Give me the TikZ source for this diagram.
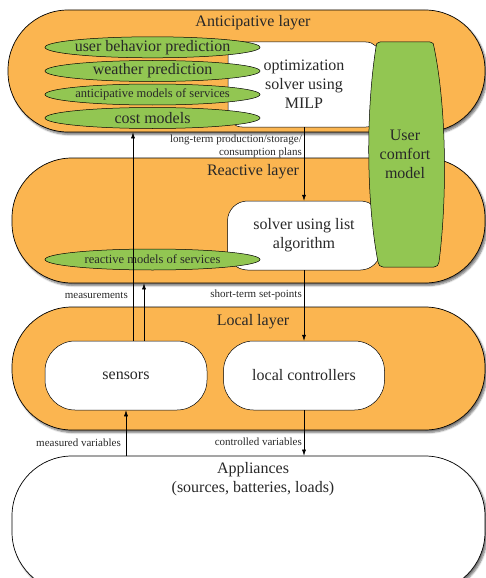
\documentclass[tikz,border=0pt]{standalone}
\usepackage{fontspec}
\setmainfont{Liberation Serif}
\usetikzlibrary{shapes.geometric,arrows.meta,shadows.blur}
\definecolor{lorange}{RGB}{251,181,80}
\definecolor{lgreen}{RGB}{146,198,82}
\definecolor{txt}{RGB}{40,40,40}
\newcommand\fbig{\fontsize{16}{19}\selectfont}
\newcommand\fmid{\fontsize{12.5}{15}\selectfont}
\newcommand\fsmall{\fontsize{11}{13}\selectfont}
\begin{document}
\begin{tikzpicture}[x=1pt,y=-1pt,
  every node/.style={text=txt},
  layer/.style={draw, line width=0.7pt, fill=lorange, rounded corners=60pt, inner sep=0pt,
    blur shadow={shadow blur steps=6, shadow xshift=2pt, shadow yshift=-2.5pt, shadow opacity=55}},
  wbox/.style={draw, line width=0.5pt, fill=white, inner sep=0pt},
  gell/.style={ellipse, draw, line width=0.5pt, fill=lgreen, minimum width=215pt, minimum height=21pt, inner xsep=-5pt, inner ysep=-2pt},
  title/.style={font=\fbig},
  lbl/.style={font=\fsmall, align=right, inner sep=0pt},
  arr/.style={-{Latex[length=6pt,width=4pt]}, line width=0.5pt}
]
\useasboundingbox (0,0) rectangle (486,578);
\clip (0,0) rectangle (486,578);

% layers
\node[layer, minimum width=477pt, minimum height=122pt] (antic) at (246.5,71) {};
\node[title] (antict) at (253,23) {Anticipative layer};
\node[layer, minimum width=473pt, minimum height=125pt] (react) at (248.5,220.5) {};
\node[title] (reactt) at (253,172) {Reactive layer};
\node[layer, minimum width=473pt, minimum height=123pt] (local) at (248.5,368.5) {};
\node[title] (localt) at (253,322) {Local layer};
\node[layer, fill=white, minimum width=473pt, minimum height=136pt] (appl) at (248.5,524) {};
\node[title, align=center] (applt) at (253,479.5) {Appliances\\(sources, batteries, loads)};

% white boxes
\node[wbox, rounded corners=14pt, minimum width=152pt, minimum height=85pt, align=center, font=\fbig] (opt) at (304,84.5) {optimization\\solver using\\MILP};
\node[wbox, rounded corners=20pt, minimum width=153pt, minimum height=69pt, align=center, font=\fbig] (solver) at (304,235.5) {solver using list\\algorithm};
\node[wbox, rounded corners=30pt, minimum width=162pt, minimum height=69pt, font=\fbig] (sens) at (126,375.5) {sensors};
\node[wbox, rounded corners=30pt, minimum width=161pt, minimum height=69pt, font=\fbig] (lc) at (304,375.5) {local controllers};

% green ellipses
\node[gell, font=\fbig] (ubp) at (152.5,47.3) {user behavior prediction};
\node[gell, font=\fbig] (wp) at (152.5,71) {weather prediction};
\node[gell, font=\fmid] (amos) at (152.5,94.5) {anticipative models of services};
\node[gell, font=\fbig] (cm) at (152.5,118) {cost models};
\node[gell, font=\fmid] (rmos) at (152.5,259.5) {reactive models of services};

% user comfort model
\path[draw, line width=0.5pt, fill=lgreen]
  (380,42) -- (430,42) .. controls (433,42) and (434,44) .. (434,47)
  .. controls (447,110) and (447,200) .. (439,262)
  .. controls (438.5,265) and (437,267) .. (434,267) -- (383,267)
  .. controls (380,267) and (378.5,265) .. (378,262)
  .. controls (366,200) and (366,110) .. (376,47)
  .. controls (376,44) and (377,42) .. (380,42) -- cycle;
\node[font=\fbig, align=center] (ucm) at (405,154) {User\\comfort\\model};

% connectors
\draw[arr] ([xshift=7pt]sens.north) -- ([xshift=7pt]sens.north |- antic.south);
\draw[arr] ([xshift=18pt]sens.north) -- ([xshift=18pt]sens.north |- react.south);
\draw[arr] (opt.south) -- (solver.north);
\draw[arr] (solver.south) -- (lc.north);
\draw[arr] (appl.north -| sens.south) -- (sens.south);
\draw[arr] (lc.south) -- (lc.south |- appl.north);

% labels
\node[lbl, anchor=east] (ltp) at (302,146) {long-term production/storage/\\consumption plans};
\node[lbl, anchor=east] (meas) at (128,295) {measurements};
\node[lbl, anchor=east] (stsp) at (302,295) {short-term set-points};
\node[lbl, anchor=east] (mv) at (121,443) {measured variables};
\node[lbl, anchor=east] (cv) at (302,442) {controlled variables};
\end{tikzpicture}
\end{document}
